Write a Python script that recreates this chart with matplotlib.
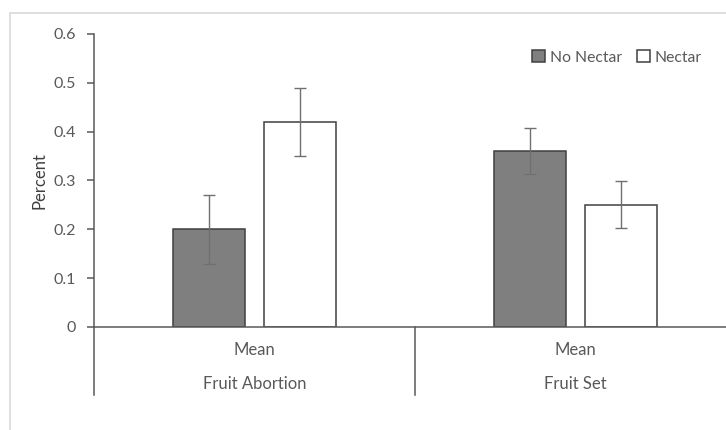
import numpy as np
import matplotlib.pyplot as plt
from matplotlib.patches import Rectangle

plt.rcParams['font.family'] = ['Lato', 'DejaVu Sans']

# Group means and error bounds
groups = ["Fruit Abortion", "Fruit Set"]
stat_label = "Mean"
series = ["No Nectar", "Nectar"]
no_nectar = [0.20, 0.36]
nectar = [0.42, 0.25]
no_nectar_err = [0.07, 0.047]
nectar_err = [0.07, 0.048]

text_color = "#595959"
W, H = 726, 430
fig = plt.figure(figsize=(W / 100, H / 100), dpi=100)

# light chart-area border
fig.patches.append(Rectangle((10 / W, -0.1), 1.2, (H - 13) / H + 0.1,
                             transform=fig.transFigure, fill=False,
                             edgecolor="#d9d9d9", linewidth=1.2))

ax = fig.add_axes([94 / W, (H - 327) / H, (W - 94) / W, 293 / H])
x = np.arange(len(groups))
width = 0.224
offset = 0.142

ax.bar(x - offset, no_nectar, width, color="#7f7f7f", edgecolor="#404040",
       linewidth=1.1, label=series[0], zorder=2)
ax.bar(x + offset, nectar, width, color="white", edgecolor="#404040",
       linewidth=1.1, label=series[1], zorder=2)
ax.errorbar(x - offset, no_nectar, yerr=no_nectar_err, fmt="none",
            ecolor="#707070", elinewidth=1, capsize=4, capthick=1, zorder=3)
ax.errorbar(x + offset, nectar, yerr=nectar_err, fmt="none",
            ecolor="#707070", elinewidth=1, capsize=4, capthick=1, zorder=3)

ax.set_xlim(-0.5, -0.5 + (W - 94) / 321)
ax.set_ylim(0, 0.6)
ax.set_yticks(np.arange(0, 0.61, 0.1))
ax.set_yticklabels(["0", "0.1", "0.2", "0.3", "0.4", "0.5", "0.6"])
ax.set_xticks([])
for s in ["top", "right"]:
    ax.spines[s].set_visible(False)
for s in ["left", "bottom"]:
    ax.spines[s].set_color("#595959")
    ax.spines[s].set_linewidth(1.1)
ax.tick_params(axis="y", colors="#595959", labelcolor=text_color,
               labelsize=11.5, length=5, width=1.1, pad=8)
ax.set_ylabel("Percent", fontsize=12, color="#404040", labelpad=4)

# two-level category axis below the plot
low = -0.139
ax.plot([-0.5, -0.5], [0, low], color="#595959", lw=1.1, clip_on=False)
ax.plot([0.5, 0.5], [0, low], color="#595959", lw=1.1, clip_on=False)
for xi, g in zip(x, groups):
    ax.text(xi, -0.047, stat_label, ha="center", va="center",
            fontsize=12, color=text_color)
    ax.text(xi, -0.117, g, ha="center", va="center",
            fontsize=12, color=text_color)

leg = ax.legend(loc="upper right", bbox_to_anchor=(716 / W, 1 - 36 / H),
                bbox_transform=fig.transFigure, ncol=2, frameon=False,
                fontsize=11.3, handlelength=0.8, handleheight=0.8,
                handletextpad=0.3, columnspacing=1.0)
for t in leg.get_texts():
    t.set_color(text_color)

fig.savefig("out.png", dpi=100)
